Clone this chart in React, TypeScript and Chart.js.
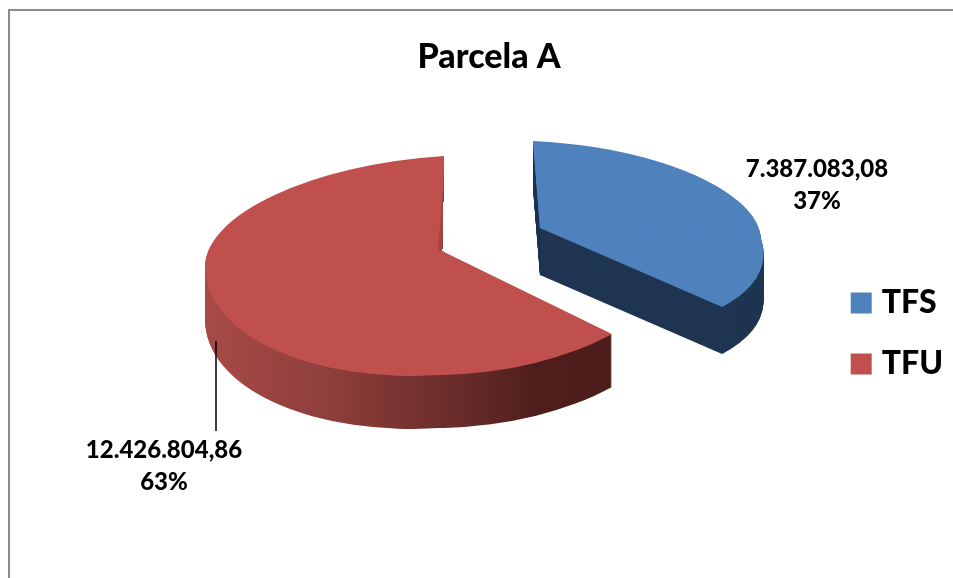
import React, { useEffect, useRef } from "react";
import { Chart, registerables } from "chart.js";

Chart.register(...registerables);

const categories = ["TFS", "TFU"];
const seriesValues = [7387083.08, 12426804.86];
const valueLabels = ["7.387.083,08", "12.426.804,86"];
const percentLabels = ["37%", "63%"];
const faceColors = ["#4F81BD", "#C0504D"];
const chartTitle = "Parcela A";

const FONT = "Lato, 'Open Sans', sans-serif";
const BASE_R = 200;

// Projection of each slice: apex, and where each axis of the flat pie lands (perspective approximation)
const views = [
  { ax: 540, ay: 228, e: [221, 10], s: [34, 103], w: [-221, 0], n: [-7, -87], depth: 47, backEdge: false },
  { ax: 442, ay: 251, e: [238, -5], s: [-1, 124], w: [-237, 15], n: [2, -95], depth: 53, backEdge: true },
];
const labelSpots = [
  { x: 817, y1: 169, y2: 201 },
  { x: 164, y1: 450, y2: 482 },
];

const pie3d = {
  id: "pie3d",
  beforeDraw(chart: any) {
    const { ctx, width, height } = chart;
    ctx.save();
    ctx.fillStyle = "#ffffff";
    ctx.fillRect(0, 0, width, height);
    ctx.strokeStyle = "#8c8c8c";
    ctx.lineWidth = 2;
    ctx.strokeRect(9, 10, width + 100, height + 100);
    ctx.restore();
  },
  beforeDatasetsDraw(chart: any) {
    const { ctx, width, height } = chart;
    const arcs = chart.getDatasetMeta(0).data;
    const paint = (arc: any, v: any, dy: number, color: any) => {
      const saved = arc.options;
      arc.options = { ...saved, backgroundColor: color, borderWidth: 0, borderColor: "transparent" };
      const R = arc.outerRadius;
      const big = R * 2;
      const quads = [
        { hx: v.e, vy: v.n, sx: 1, sy: -1 },
        { hx: v.e, vy: v.s, sx: 1, sy: 1 },
        { hx: v.w, vy: v.s, sx: -1, sy: 1 },
        { hx: v.w, vy: v.n, sx: -1, sy: -1 },
      ];
      ctx.save();
      if (dy > 0 && v.backEdge) {
        // the wall behind the slice's rear cut edge is hidden
        ctx.beginPath();
        ctx.moveTo(0, 0);
        ctx.lineTo(v.ax + v.n[0], 0);
        ctx.lineTo(v.ax + v.n[0], v.ay + v.n[1]);
        ctx.lineTo(v.ax, v.ay);
        ctx.lineTo(width, v.ay);
        ctx.lineTo(width, height);
        ctx.lineTo(0, height);
        ctx.closePath();
        ctx.clip();
      }
      quads.forEach((q) => {
        ctx.save();
        // local unit x -> ±hx/R, local unit y -> ±vy/R
        ctx.transform(
          (q.sx * q.hx[0]) / R, (q.sx * q.hx[1]) / R,
          (q.sy * q.vy[0]) / R, (q.sy * q.vy[1]) / R,
          v.ax, v.ay + dy,
        );
        ctx.beginPath();
        const m = 0.7; // overlap to hide seams
        ctx.rect(q.sx > 0 ? -m : -big, q.sy > 0 ? -m : -big, big + m, big + m);
        ctx.clip();
        ctx.translate(-arc.x, -arc.y);
        arc.draw(ctx);
        ctx.restore();
      });
      ctx.restore();
      arc.options = saved;
    };
    arcs.forEach((arc: any, i: number) => {
      const v = views[i];
      let wall: any = "#1F3552";
      if (i === 1) {
        const R = arc.outerRadius;
        wall = ctx.createLinearGradient(arc.x - R, 0, arc.x + R * 0.717, 0);
        wall.addColorStop(0, "#A84A47");
        wall.addColorStop(0.3, "#8F3F3C");
        wall.addColorStop(0.5, "#783330");
        wall.addColorStop(0.7, "#5E2725");
        wall.addColorStop(0.82, "#4F1E1C");
        wall.addColorStop(1, "#4E1D1B");
      }
      for (let d = v.depth; d >= 1; d--) paint(arc, v, d, wall);
      paint(arc, v, 0, faceColors[i]);
      if (v.backEdge) {
        // soft shade along the rear cut edge
        ctx.save();
        ctx.fillStyle = "#A34441";
        ctx.beginPath();
        ctx.moveTo(v.ax + v.n[0] * 0.75, v.ay + v.n[1] * 0.75);
        ctx.lineTo(v.ax, v.ay);
        ctx.lineTo(v.ax - 4, v.ay);
        ctx.closePath();
        ctx.fill();
        ctx.restore();
      }
    });
    return false;
  },
  afterDraw(chart: any) {
    const { ctx } = chart;
    ctx.save();
    ctx.strokeStyle = "#000000";
    ctx.lineWidth = 1.5;
    ctx.beginPath();
    ctx.moveTo(216, 341);
    ctx.lineTo(216, 431);
    ctx.stroke();
    ctx.fillStyle = "#000000";
    ctx.font = `900 24px ${FONT}`;
    ctx.textAlign = "center";
    ctx.textBaseline = "middle";
    labelSpots.forEach((s, i) => {
      ctx.fillText(valueLabels[i], s.x, s.y1);
      ctx.fillText(percentLabels[i], s.x, s.y2);
    });
    ctx.restore();
  },
};

export default function App() {
  const ref = useRef<HTMLCanvasElement>(null);
  useEffect(() => {
    const chart = new Chart(ref.current!, {
      type: "pie",
      data: {
        labels: categories,
        datasets: [{ data: seriesValues, backgroundColor: faceColors, borderWidth: 0, clip: false } as any],
      },
      options: {
        responsive: false,
        animation: false,
        events: [],
        radius: BASE_R,
        layout: { padding: { left: 25, right: 0, top: 37, bottom: 169 } },
        plugins: {
          title: {
            display: true,
            text: chartTitle,
            color: "#000000",
            font: { family: FONT, size: 34, weight: "900" },
            padding: 0,
          },
          legend: {
            display: true,
            position: "right",
            align: "end",
            labels: {
              boxWidth: 9,
              boxHeight: 9,
              padding: 29,
              color: "#000000",
              font: { family: FONT, size: 32, weight: "900" },
              generateLabels: (chart: any) =>
                categories.map((text, i) => ({
                  text,
                  fillStyle: faceColors[i],
                  strokeStyle: faceColors[i],
                  lineWidth: 12,
                  lineJoin: "miter",
                  hidden: false,
                  index: i,
                })),
            },
          },
          tooltip: { enabled: false },
        },
      } as any,
      plugins: [pie3d],
    });
    return () => chart.destroy();
  }, []);
  return (
    <div style={{ position: "fixed", left: 0, top: 0, width: 953, height: 578, overflow: "hidden" }}>
      <canvas ref={ref} width={953} height={578} style={{ display: "block" }} />
    </div>
  );
}
